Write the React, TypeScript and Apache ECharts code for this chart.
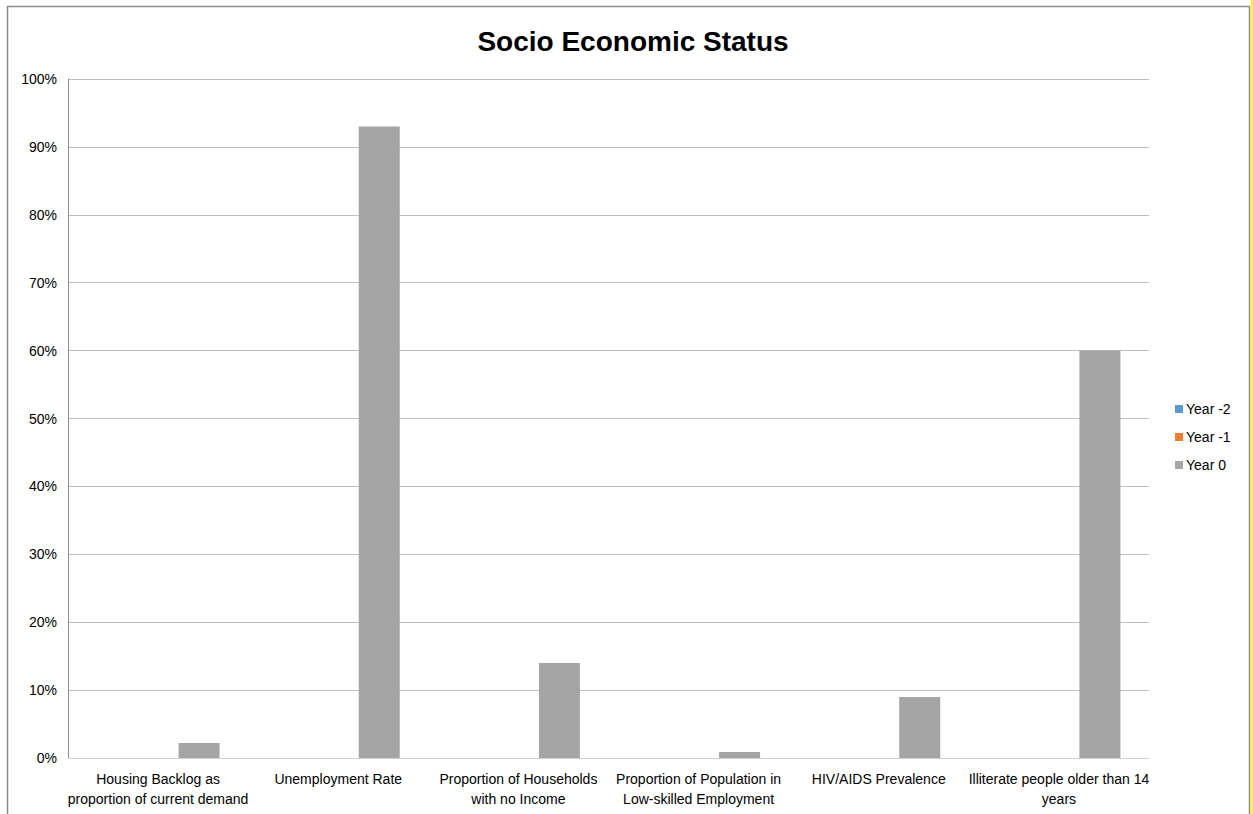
import React, { useEffect, useRef } from "react";
import * as echarts from "echarts";

const categories = [
  "Housing Backlog as\nproportion of current demand",
  "Unemployment Rate",
  "Proportion of Households\nwith no Income",
  "Proportion of Population in\nLow-skilled Employment",
  "HIV/AIDS Prevalence",
  "Illiterate people older than 14\nyears",
];
const seriesNames = ["Year -2", "Year -1", "Year 0"];
const yearMinus2: (number | null)[] = [0, 0, 0, 0, 0, 0];
const yearMinus1: (number | null)[] = [0, 0, 0, 0, 0, 0];
const year0 = [0.022, 0.93, 0.14, 0.009, 0.09, 0.6];
const colors = ["#5b9bd5", "#ed7d31", "#a5a5a5"];

export default function App() {
  const ref = useRef<HTMLDivElement>(null);
  useEffect(() => {
    if (!ref.current) return;
    const chart = echarts.init(ref.current, undefined, { renderer: "svg" });
    const font = "'Liberation Sans', Arial, sans-serif";
    const data = [yearMinus2, yearMinus1, year0];
    chart.setOption({
      animation: false,
      textStyle: { fontFamily: font },
      title: {
        text: "Socio Economic Status",
        left: 628,
        textAlign: "center",
        top: 22,
        textStyle: { fontFamily: font, fontSize: 28, fontWeight: "bold", color: "#000" },
      },
      legend: {
        orient: "vertical",
        left: 1170,
        top: 397,
        itemWidth: 8,
        itemHeight: 8,
        itemGap: 14,
        icon: "rect",
        textStyle: { fontFamily: font, fontSize: 14, color: "#000", padding: [0, 0, 0, -2] },
        data: seriesNames,
      },
      grid: { left: 68, right: 1253 - 1149, top: 79, bottom: 814 - 758, containLabel: false },
      xAxis: {
        type: "category",
        data: categories,
        axisLine: { show: true, lineStyle: { color: "#d0d0d0", width: 1 } },
        axisTick: { show: false },
        axisLabel: {
          interval: 0,
          color: "#000",
          fontFamily: font,
          fontSize: 14,
          lineHeight: 20,
          margin: 11,
        },
      },
      yAxis: {
        type: "value",
        min: 0,
        max: 1,
        interval: 0.1,
        axisLine: { show: true, lineStyle: { color: "#8c8c8c", width: 1 } },
        axisTick: { show: false },
        splitLine: { lineStyle: { color: "#bfbfbf", width: 1 } },
        axisLabel: {
          color: "#000",
          fontFamily: font,
          fontSize: 14,
          margin: 11,
          formatter: (v: number) => Math.round(v * 100) + "%",
        },
      },
      series: seriesNames.map((name, i) => ({
        name,
        type: "bar",
        data: data[i],
        barWidth: 41,
        barGap: "0%",
        itemStyle: { color: colors[i] },
      })),
      graphic: [
        {
          type: "rect",
          shape: { x: 7.5, y: 6.5, width: 1242, height: 830 },
          style: { fill: "none", stroke: "#8c8c8c", lineWidth: 1.5 },
          silent: true,
        },
        {
          type: "rect",
          shape: { x: 1251, y: 0, width: 2, height: 814 },
          style: { fill: "#ffff00" },
          silent: true,
        },
      ],
    });
    return () => chart.dispose();
  }, []);
  return (
    <div
      ref={ref}
      style={{ position: "fixed", left: 0, top: 0, width: 1253, height: 814, background: "#fff" }}
    />
  );
}
